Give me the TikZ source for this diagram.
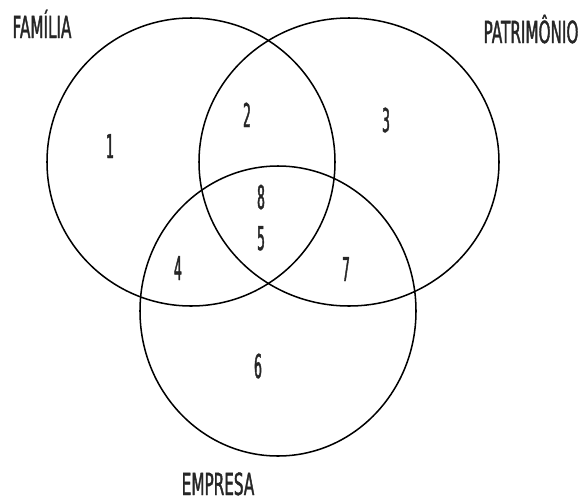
\documentclass[tikz,border=0pt]{standalone}
\usepackage{fontspec}
\newfontfamily\vennlabel{DejaVu Sans}[FakeStretch=0.5, FakeBold=1.2]
\newfontfamily\vennnum{DejaVu Sans}[FakeStretch=0.38, FakeBold=1.2]
\begin{document}
\begin{tikzpicture}[x=0.03cm, y=-0.03cm,
  set/.style={line width=1.3pt, draw=black},
  setname/.style={anchor=base, inner sep=0pt, text=black!85, font=\vennlabel\fontsize{26}{26}\selectfont},
  region/.style={anchor=base, inner sep=0pt, text=black!85, font=\vennnum\fontsize{28}{28}\selectfont}]
  \useasboundingbox (0,0) rectangle (587,501);
  % the three sets
  \coordinate (familia) at (191,162);
  \coordinate (patrimonio) at (349,162);
  \coordinate (empresa) at (278,311);
  \draw[set] (familia) ellipse [x radius=144, y radius=144];
  \draw[set] (patrimonio) ellipse [x radius=150, y radius=144];
  \draw[set] (empresa) ellipse [x radius=138, y radius=145];
  % names of the sets
  \node[setname] (nfamilia) at (42,38) {FAMÍLIA};
  \node[setname] (npatrimonio) at (531,43) {PATRIMÔNIO};
  \node[setname] (nempresa) at (218,495) {EMPRESA};
  % regions
  \node[region] (r1) at (110,158) {1};
  \node[region] (r2) at (247,127) {2};
  \node[region] (r3) at (386,132) {3};
  \node[region] (r8) at (261,209) {8};
  \node[region] (r5) at (261,250) {5};
  \node[region] (r4) at (178,280) {4};
  \node[region] (r7) at (346,281) {7};
  \node[region] (r6) at (258,378) {6};
\end{tikzpicture}
\end{document}
